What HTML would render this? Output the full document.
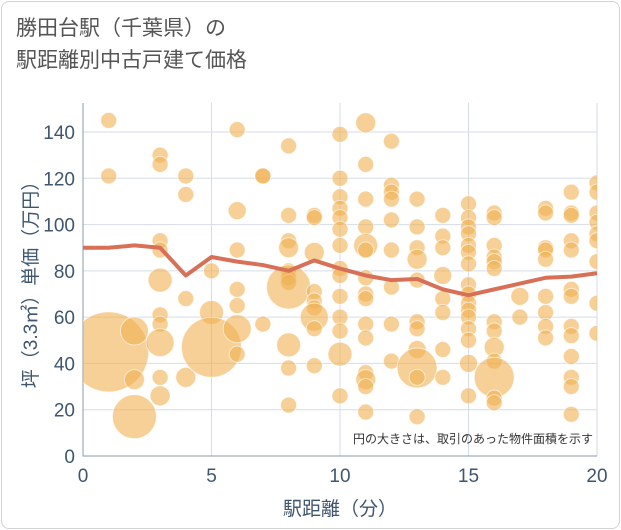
<!DOCTYPE html>
<html><head><meta charset="utf-8"><style>
body{margin:0;background:#fff;font-family:"Liberation Sans","Noto Sans CJK JP",sans-serif}
#card{position:absolute;left:1px;top:1px;width:617px;height:526px;border:1px solid #d0d4da;border-radius:8px;background:#fff}
#title{position:absolute;left:16px;top:13px;font-size:21px;line-height:32px;color:#555}
</style></head><body>
<div id="card"></div>
<div id="title">勝田台駅（千葉県）の<br>駅距離別中古戸建て価格</div>
<svg id="chart" width="621" height="530" style="position:absolute;left:0;top:0"></svg>
<script>
const xTicks=[0,5,10,15,20];
const yTicks=[0,20,40,60,80,100,120,140];
const trendX=[0,1,2,3,4,5,6,7,8,9,10,11,12,13,14,15,16,17,18,19,20];
const trendY=[90,90,91,90,78,86,84,82.5,80,84.5,81,78,76,76.5,72,69.5,72,74.5,77,77.5,79];
const bubX=[];const bubY=[];const bubR=[];
const groups=[
[1,[[145],[121],[45,40]]],
[2,[[54,14],[33,10],[17,22]]],
[3,[[130],[126],[93],[89],[76,12],[61],[57],[49,14],[34],[26,10]]],
[4,[[121],[113],[68],[34,10]]],
[5,[[80],[62,12],[47,30]]],
[6,[[141],[106,9],[89],[72],[65],[55,14],[44]]],
[7,[[121],[121],[57]]],
[8,[[134],[104],[93],[90,10],[80],[77],[75],[73,22],[48,12],[38],[22]]],
[9,[[104],[103],[88,10],[71],[67],[64],[60,14],[55],[39]]],
[10,[[139],[120],[112],[107],[103],[98],[91],[81],[78],[69],[60],[54],[44,12],[26]]],
[11,[[144,10],[126],[111],[99],[91,12],[89],[77],[70],[68],[57],[51],[36],[33,10],[30],[19]]],
[12,[[136],[117],[114],[111],[102],[89],[73],[57],[41]]],
[13,[[111],[99],[90],[85,10],[76],[58],[55],[46,9],[38,20],[34],[17]]],
[14,[[104],[95],[90],[78,9],[68],[62],[46],[34]]],
[15,[[109],[103],[99],[96],[91],[88],[83],[74],[70],[66],[63],[60],[55],[50],[40,9],[26]]],
[16,[[105],[103],[91],[86],[84],[81],[58],[54],[47,10],[41],[34,20],[25],[23]]],
[17,[[69,9],[60]]],
[18,[[107],[105],[90],[89],[85],[69],[62],[56],[51]]],
[19,[[114],[105],[104],[93],[89],[72],[69],[56],[52],[43],[34],[30],[18]]],
[20,[[118],[114],[105],[101],[96],[93],[84],[66],[53]]]];
groups.forEach(g=>g[1].forEach(p=>{bubX.push(g[0]);bubY.push(p[0]);bubR.push(p[1]||8);}));
const L=83,R=597,T=103,B=456;
const sx=v=>L+(v-0)/20*(R-L);
const sy=v=>B-v*(B-132)/140;
const svg=document.getElementById('chart');const NS='http://www.w3.org/2000/svg';
function mk(t,a,p){const e=document.createElementNS(NS,t);for(const k in a)e.setAttribute(k,a[k]);(p||svg).appendChild(e);return e;}
yTicks.forEach(v=>{
const l=mk('line',{x1:L,x2:R,y1:sy(v),y2:sy(v),stroke:'#d5dde8','stroke-width':1});


const t=mk('text',{x:L-8,y:sy(v)+7,'text-anchor':'end','font-size':19,fill:'#3f5670'});t.textContent=v;


});
xTicks.forEach(v=>{
const l=mk('line',{x1:sx(v),x2:sx(v),y1:T,y2:B,stroke:'#d5dde8','stroke-width':1});


const t=mk('text',{x:sx(v),y:B+26,'text-anchor':'middle','font-size':19,fill:'#3f5670'});t.textContent=v;


});
const fr=mk('path',{d:`M${L},${T}V${B}H${R}`,fill:'none',stroke:'#8a9aac','stroke-width':1});


const clip=mk('clipPath',{id:'pc'});mk('rect',{x:L,y:T,width:R-L,height:B-T},clip);
const gb=mk('g',{'clip-path':'url(#pc)'});
bubX.forEach((x,i)=>{
const c=mk('circle',{cx:sx(x),cy:sy(bubY[i]),r:bubR[i],fill:'#f0b050','fill-opacity':0.6,stroke:'#fff','stroke-opacity':0.6,'stroke-width':1},gb);


});
const pl=mk('polyline',{points:trendX.map((x,i)=>sx(x)+','+sy(trendY[i])).join(' '),fill:'none',stroke:'#d87058','stroke-width':4,'stroke-linejoin':'round'},gb);


const an=mk('text',{x:R-4,y:443,'text-anchor':'end','font-size':12,fill:'#333'});an.textContent='円の大きさは、取引のあった物件面積を示す';


const xt=mk('text',{x:340,y:515,'text-anchor':'middle','font-size':19,fill:'#3f5670'});xt.textContent='駅距離（分）';


const yt=mk('text',{x:0,y:0,'text-anchor':'middle','font-size':19,fill:'#3f5670',transform:'translate(37,280) rotate(-90)'});yt.textContent='坪（3.3㎡）単価（万円）';


</script>
</body></html>
